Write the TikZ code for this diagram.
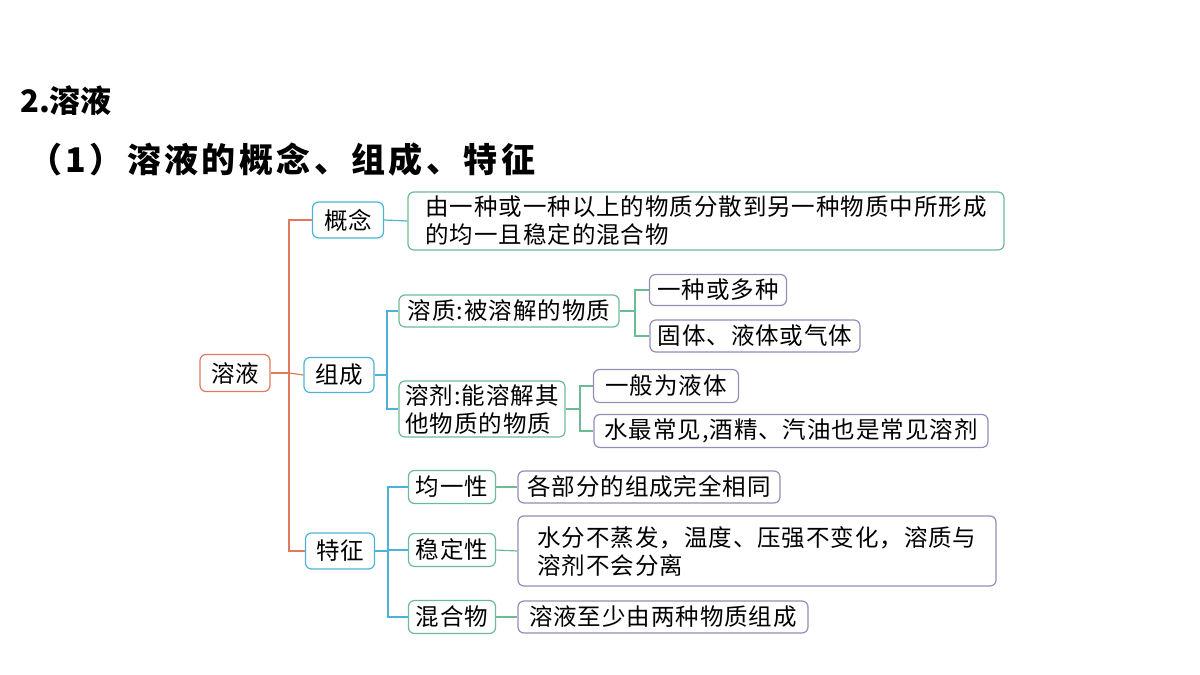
\documentclass[tikz,border=0pt]{standalone}
\usepackage{fontspec}
\setmainfont{Noto Sans CJK SC}
\begin{document}
\begin{tikzpicture}[x=1pt,y=-1pt,
  bx/.style={draw,rounded corners=6pt,line width=1.2pt,inner sep=0pt,font=\fontsize{23.5}{28}\selectfont\addfontfeature{LetterSpace=4},align=left},
  ro/.style={bx,draw=rootc},
  l1/.style={bx,draw=bluec},
  l2/.style={bx,draw=greenc},
  l3/.style={bx,draw=purpc},
  ln/.style={line width=1.2pt}]
\definecolor{rootc}{HTML}{E07A5F}
\definecolor{bluec}{HTML}{4DB3D6}
\definecolor{greenc}{HTML}{6CBB95}
\definecolor{purpc}{HTML}{968CB8}
\useasboundingbox (0,0) rectangle (1200,675);
\node[anchor=west,inner sep=0pt,font=\fontsize{31}{34}\selectfont\bfseries] (t1) at (20,101) {2.溶液};
\node[anchor=west,inner sep=0pt,font=\fontsize{34}{36}\selectfont\bfseries\addfontfeature{LetterSpace=10}] (t2) at (28,160) {（1）溶液的概念、组成、特征};
\node[ro,minimum width=70,minimum height=37] (r) at (235,373) {溶液};
\node[l1,minimum width=71,minimum height=36] (gn) at (348,220) {概念};
\node[l1,minimum width=70,minimum height=35] (zc) at (339,375) {组成};
\node[l1,minimum width=69,minimum height=36] (tz) at (340,551) {特征};
\node[l2,minimum width=596,minimum height=58] (gnc) at (706,221) {由一种或一种以上的物质分散到另一种物质中所形成\\的均一且稳定的混合物};
\node[l2,minimum width=220,minimum height=32] (zz) at (509,311) {溶质:被溶解的物质};
\node[l2,minimum width=166,minimum height=56] (rj) at (482,409) {溶剂:能溶解其\\他物质的物质};
\node[l3,minimum width=137,minimum height=31] (a1) at (718,290) {一种或多种};
\node[l3,minimum width=210,minimum height=32] (a2) at (755,336) {固体、液体或气体};
\node[l3,minimum width=145,minimum height=33] (b1) at (666,386) {一般为液体};
\node[l3,minimum width=394,minimum height=33] (b2) at (791,431) {水最常见,酒精、汽油也是常见溶剂};
\node[l2,minimum width=87,minimum height=33] (jy) at (452,487) {均一性};
\node[l2,minimum width=87,minimum height=33] (wd) at (452,550) {稳定性};
\node[l2,minimum width=87,minimum height=33] (hh) at (452,617) {混合物};
\node[l3,minimum width=262,minimum height=32] (c1) at (649,487) {各部分的组成完全相同};
\node[l3,minimum width=478,minimum height=70] (c2) at (757,551) {水分不蒸发，温度、压强不变化，溶质与\\溶剂不会分离};
\node[l3,minimum width=290,minimum height=32] (c3) at (663,617) {溶液至少由两种物质组成};
% root connectors
\coordinate (k0) at (289,373);
\draw[ln,rootc] (r.east) -- (k0);
\draw[ln,rootc] (gn.west) -- (289,220) -- (289,551) -- (tz.west);
\draw[ln,rootc] (k0) -- (zc.west);
\draw[ln,bluec] (gn.east) -- (gnc.west);
% 组成
\draw[ln,bluec] (zc.east) -- (387,375);
\draw[ln,bluec] (zz.west) -- (387,311) -- (387,409) -- (rj.west);
\draw[ln,greenc] (zz.east) -- (635,311);
\draw[ln,greenc] (a1.west) -- (635,290) -- (635,336) -- (a2.west);
\draw[ln,greenc] (rj.east) -- (580,409);
\draw[ln,greenc] (b1.west) -- (580,386) -- (580,431) -- (b2.west);
% 特征
\draw[ln,bluec] (tz.east) -- (388,551);
\draw[ln,bluec] (jy.west) -- (388,487) -- (388,617) -- (hh.west);
\draw[ln,bluec] (388,550) -- (wd.west);
\draw[ln,greenc] (jy.east) -- (c1.west);
\draw[ln,greenc] (wd.east) -- (c2.west);
\draw[ln,greenc] (hh.east) -- (c3.west);
\end{tikzpicture}
\end{document}
